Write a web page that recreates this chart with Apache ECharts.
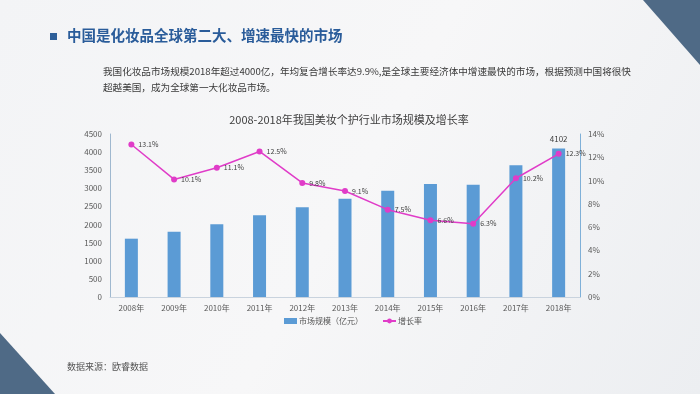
<!DOCTYPE html>
<html><head><meta charset="utf-8">
<script src="https://cdn.jsdelivr.net/npm/echarts@6/dist/echarts.min.js"></script>
<style>html,body{margin:0;padding:0;}#c{width:700px;height:394px;}</style>
</head><body><div id="c"></div>
<script>
const categories = ['2008年','2009年','2010年','2011年','2012年','2013年','2014年','2015年','2016年','2017年','2018年'];
const marketSize = [1610, 1800, 2010, 2260, 2480, 2710, 2930, 3120, 3100, 3640, 4102];
const growthRate = [13.1, 10.1, 11.1, 12.5, 9.8, 9.1, 7.5, 6.6, 6.3, 10.2, 12.3];
const leftTicks = [0, 4500, 500];
const rightTicks = [0, 14, 2];

const chart = echarts.init(document.getElementById('c'));
const ff = '"Noto Sans CJK SC", "Noto Sans", sans-serif';
chart.setOption({
  backgroundColor: {type:'linear', x:0, y:0, x2:1, y2:1, colorStops:[{offset:0,color:'#f3f4f6'},{offset:0.5,color:'#f7f7f8'},{offset:1,color:'#eceef1'}]},
  animation: false,
  textStyle: {fontFamily: ff},
  graphic: [
    {type:'polygon', shape:{points:[[643,0],[700,0],[700,65]]}, style:{fill:'#4f6a86'}},
    {type:'polygon', shape:{points:[[0,333],[0,394],[55,394]]}, style:{fill:'#4f6a86'}},
    {type:'rect', shape:{x:50, y:33, width:7, height:7}, style:{fill:'#2e5f99'}},
    {type:'text', left:67, top:28, style:{text:'中国是化妆品全球第二大、增速最快的市场', fill:'#2a5c9a', font:'bold 14.5px ' + ff}},
    {type:'text', left:103, top:63, style:{text:'我国化妆品市场规模2018年超过4000亿，年均复合增长率达9.9%,是全球主要经济体中增速最快的市场，根据预测中国将很快\n超越美国，成为全球第一大化妆品市场。', fill:'#3a3a3a', font:'9.6px ' + ff, lineHeight:16}},
    {type:'text', left:67, top:362, style:{text:'数据来源：欧睿数据', fill:'#555', font:'9px ' + ff}}
  ],
  title: {text:'2008-2018年我国美妆个护行业市场规模及增长率', left:344, textAlign:'center', top:109,
    textStyle:{fontSize:11, fontWeight:'normal', color:'#404040', fontFamily: ff}},
  legend: {bottom:64, left:279, itemGap:19, itemWidth:13, itemHeight:6,
    textStyle:{fontSize:8, color:'#555', padding:[0,0,0,-3]},
    data:[{name:'市场规模（亿元）', icon:'rect'}, {name:'增长率'}]},
  grid: {left:110, right:120, top:134, bottom:97},
  xAxis: {type:'category', data:categories,
    axisLine:{lineStyle:{color:'#c9d3de'}}, axisTick:{show:false},
    axisLabel:{fontSize:8, color:'#595959', margin:7}},
  yAxis: [
    {type:'value', min:leftTicks[0], max:leftTicks[1], interval:leftTicks[2],
      axisLine:{show:true, lineStyle:{color:'#9fb8cf'}}, axisTick:{show:false},
      splitLine:{show:false}, axisLabel:{fontSize:8, color:'#595959', margin:8, formatter: v => String(v)}},
    {type:'value', min:rightTicks[0], max:rightTicks[1], interval:rightTicks[2],
      axisLine:{show:true, lineStyle:{color:'#7fb0d8'}}, axisTick:{show:false},
      splitLine:{show:false}, axisLabel:{fontSize:8, color:'#595959', margin:8, formatter:'{value}%'}}
  ],
  series: [
    {name:'市场规模（亿元）', type:'bar', data:marketSize, barWidth:13, itemStyle:{color:'#5b9bd5'},
      label:{show:true, position:'top', fontSize:8, color:'#404040',
        formatter: p => p.dataIndex === marketSize.length - 1 ? String(p.value) : ''}},
    {name:'增长率', type:'line', yAxisIndex:1, data:growthRate, symbol:'circle', symbolSize:6,
      itemStyle:{color:'#e03cc8'}, lineStyle:{color:'#e03cc8', width:1.5},
      label:{show:true, position:'right', distance:4, fontSize:7, color:'#404040', formatter:'{c}%'}}
  ]
});
</script></body></html>
